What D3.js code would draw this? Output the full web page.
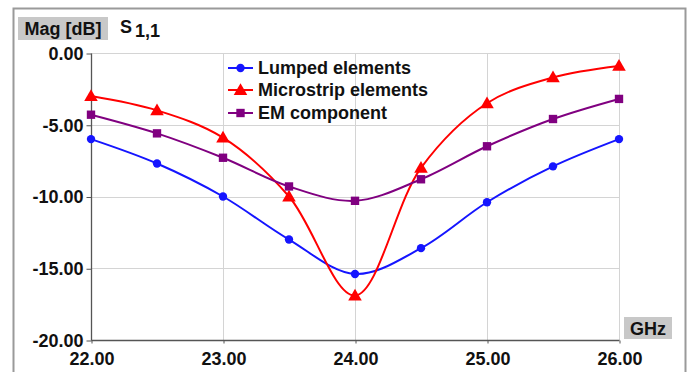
<!DOCTYPE html>
<html>
<head>
<meta charset="utf-8">
<script src="https://cdn.jsdelivr.net/npm/d3@7/dist/d3.min.js"></script>
<style>
  html, body { margin: 0; padding: 0; background: #fff; }
  svg { display: block; font-family: "Liberation Sans", Arial, sans-serif; }
</style>
</head>
<body>
<svg id="chart" width="697" height="372"></svg>
<script>
const freqs = [22.0, 22.5, 23.0, 23.5, 24.0, 24.5, 25.0, 25.5, 26.0];
const lumped = [-6.0, -7.7, -10.0, -13.0, -15.4, -13.6, -10.4, -7.9, -6.0];
const microstrip = [-3.0, -4.0, -5.9, -10.0, -16.9, -8.0, -3.5, -1.7, -0.9];
const emComponent = [-4.3, -5.6, -7.3, -9.3, -10.3, -8.8, -6.5, -4.6, -3.2];
const seriesNames = ["Lumped elements", "Microstrip elements", "EM component"];
const xTicks = [22, 23, 24, 25, 26];
const yTicks = [0, -5, -10, -15, -20];

const FS = 18;
const svg = d3.select("#chart");
const x = d3.scaleLinear().domain([22, 26]).range([91, 619]);
const y = d3.scaleLinear().domain([-20, 0]).range([340, 53]);
const fmt = d => d3.format(".2f")(d).replace("\u2212", "-");

// outer frame
svg.append("path").attr("d", "M13.5,372 L13.5,8.5 L685.5,8.5 L685.5,372")
  .attr("fill", "none").attr("stroke", "#9a9a9a").attr("stroke-width", 2);

// gridlines
const grid = svg.append("g");
xTicks.forEach(t => grid.append("line")
  .attr("x1", Math.round(x(t)) + 0.5).attr("x2", Math.round(x(t)) + 0.5)
  .attr("y1", y(0)).attr("y2", y(-20))
  .attr("stroke", "#d4d4d4").attr("stroke-width", 1));
yTicks.forEach(t => grid.append("line")
  .attr("x1", x(22)).attr("x2", x(26))
  .attr("y1", Math.round(y(t)) + 0.5).attr("y2", Math.round(y(t)) + 0.5)
  .attr("stroke", "#d4d4d4").attr("stroke-width", 1));

// axes
const yAxis = d3.axisLeft(y).tickValues(yTicks).tickSize(5).tickPadding(3).tickFormat(fmt);
const gy = svg.append("g").attr("transform", `translate(${x(22) + 0.5},0.5)`).call(yAxis);
const xAxis = d3.axisBottom(x).tickValues(xTicks).tickSize(3).tickPadding(9).tickFormat(fmt);
const gx = svg.append("g").attr("transform", `translate(0.5,${y(-20) + 0.5})`).call(xAxis);
[gx, gy].forEach(g => {
  g.select(".domain").attr("stroke", "#555").attr("stroke-width", 1.3);
  g.selectAll(".tick line").attr("stroke", "#555");
  g.selectAll(".tick text").attr("fill", "#111").attr("font-size", FS)
    .attr("font-weight", "bold").attr("font-family", "Liberation Sans, Arial, sans-serif");
});
gx.select(".domain").attr("d", `M${x(22)},0H${x(26)}`);
gy.select(".domain").attr("d", `M0,${y(0)}V${y(-20)}`);

// titles
svg.append("rect").attr("x", 18).attr("y", 17).attr("width", 90).attr("height", 23).attr("fill", "#c8c8c8");
svg.append("text").attr("x", 63).attr("y", 35).attr("text-anchor", "middle")
  .attr("font-size", FS).attr("font-weight", "bold").attr("fill", "#111").text("Mag [dB]");
const st = svg.append("text").attr("x", 120).attr("y", 33).attr("font-size", FS)
  .attr("font-weight", "bold").attr("fill", "#111");
st.append("tspan").text("S");
st.append("tspan").attr("dx", 3).attr("dy", 4).text("1,1");

svg.append("rect").attr("x", 624).attr("y", 317).attr("width", 48).attr("height", 22).attr("fill", "#c8c8c8");
svg.append("text").attr("x", 648).attr("y", 334.5).attr("text-anchor", "middle")
  .attr("font-size", FS).attr("font-weight", "bold").attr("fill", "#111").text("GHz");

// series
const colors = ["#1515ff", "#ff0000", "#800080"];
const data = [lumped, microstrip, emComponent];
const symbols = [d3.symbolCircle, d3.symbolTriangle, d3.symbolSquare];
const symSizes = [55, 80, 70];
const line = d3.line().x(d => x(d[0])).y(d => y(d[1])).curve(d3.curveCatmullRom.alpha(0.5));

data.forEach((vals, i) => {
  const pts = freqs.map((f, j) => [f, vals[j]]);
  svg.append("path").attr("d", line(pts)).attr("fill", "none")
    .attr("stroke", colors[i]).attr("stroke-width", 2);
  svg.append("g").selectAll("path").data(pts).join("path")
    .attr("transform", d => `translate(${x(d[0])},${y(d[1]) + (i === 1 ? 1 : 0)})`)
    .attr("d", d3.symbol().type(symbols[i]).size(symSizes[i]))
    .attr("fill", colors[i]);
});

// legend
const legY = [68, 90, 113];
seriesNames.forEach((name, i) => {
  const g = svg.append("g").attr("transform", `translate(228,${legY[i]})`);
  g.append("line").attr("x1", 0).attr("x2", 25).attr("y1", 0).attr("y2", 0)
    .attr("stroke", colors[i]).attr("stroke-width", 2);
  g.append("path").attr("transform", `translate(12.5,${i === 1 ? 1 : 0})`)
    .attr("d", d3.symbol().type(symbols[i]).size(symSizes[i])).attr("fill", colors[i]);
  g.append("text").attr("x", 30).attr("y", 6).attr("font-size", FS)
    .attr("font-weight", "bold").attr("fill", "#111").text(name);
});
</script>
</body>
</html>
